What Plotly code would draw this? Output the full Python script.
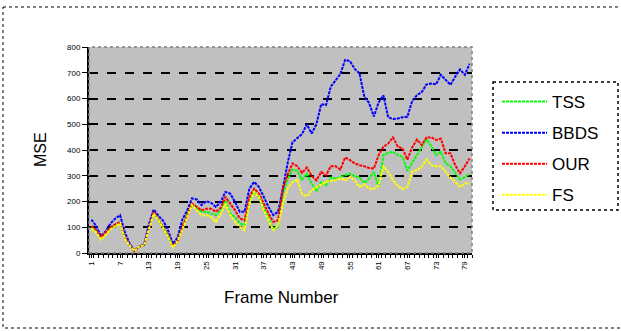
import plotly.graph_objects as go

frames = list(range(1, 81))

tss = [100, 88, 60, 78, 98, 110, 118, 58, 30, 8, 25, 30, 100, 158, 130, 100, 70, 28, 45, 95,
       150, 190, 175, 160, 160, 155, 147, 165, 205, 153, 140, 115, 108, 205, 237, 218, 179, 134, 95, 102,
       230, 285, 324, 319, 285, 308, 270, 240, 276, 263, 293, 289, 295, 302, 308, 298, 293, 272, 289, 315,
       257, 380, 389, 393, 380, 374, 319, 350, 380, 406, 441, 415, 380, 393, 348, 337, 309, 285, 295, 306]

bbds = [130, 105, 65, 85, 115, 134, 147, 80, 36, 8, 25, 32, 110, 169, 145, 125, 89, 35, 60, 130,
        165, 212, 208, 186, 201, 195, 179, 198, 237, 231, 198, 160, 160, 250, 276, 256, 218, 179, 147, 160,
        250, 350, 430, 445, 462, 500, 464, 500, 578, 574, 646, 670, 695, 750, 745, 715, 698, 607, 583, 530,
        585, 612, 527, 520, 522, 527, 529, 590, 613, 625, 655, 658, 655, 692, 672, 653, 685, 713, 692, 735]

our = [105, 90, 62, 80, 100, 112, 120, 60, 30, 8, 25, 30, 100, 160, 130, 100, 70, 28, 45, 100,
       150, 192, 179, 166, 172, 172, 160, 175, 218, 192, 166, 134, 127, 218, 250, 231, 192, 153, 121, 127,
       250, 305, 348, 337, 311, 332, 300, 282, 315, 302, 337, 337, 324, 371, 361, 348, 341, 337, 330, 328,
       380, 413, 425, 449, 413, 406, 363, 410, 441, 419, 449, 449, 439, 444, 387, 387, 341, 309, 337, 367]

fs = [95, 80, 52, 70, 92, 105, 115, 55, 28, 8, 25, 30, 95, 152, 128, 95, 65, 22, 45, 90,
      140, 186, 166, 147, 147, 140, 121, 150, 192, 147, 121, 102, 89, 192, 237, 218, 166, 127, 89, 108,
      190, 250, 275, 285, 228, 220, 244, 255, 267, 276, 280, 282, 291, 282, 295, 282, 257, 267, 250, 250,
      262, 337, 315, 282, 260, 248, 257, 315, 322, 335, 363, 341, 337, 337, 315, 293, 276, 257, 270, 270]

series = [("TSS", tss, "#00FF00"), ("BBDS", bbds, "#0000FF"), ("OUR", our, "#FF0000"), ("FS", fs, "#FFFF00")]

x_ticks = list(range(1, 80, 6))
y_ticks = list(range(0, 801, 100))

fig = go.Figure()
for name, vals, col in series:
    fig.add_trace(go.Scatter(x=frames, y=vals, name=name, mode="lines", legendgroup=name,
                             line=dict(color=col, width=2, dash="3px,1px")))

W, H = 621, 331
L, R, T, B = 89, 149, 47, 78
pw, ph = W - L - R, H - T - B

def px2x(p):
    return (p - L) / pw

def py2y(p):
    return 1 - (p - T) / ph

fig.update_layout(
    width=W, height=H,
    margin=dict(l=L, r=R, t=T, b=B),
    paper_bgcolor="white",
    plot_bgcolor="#C0C0C0",
    font=dict(family="Arial, Liberation Sans, sans-serif", color="black"),
    showlegend=True,
    legend=dict(x=px2x(497), y=py2y(84), xanchor="left", yanchor="top",
                font=dict(size=17), tracegroupgap=6, bgcolor="rgba(0,0,0,0)",
                itemwidth=45),
    xaxis=dict(range=[0.5, 80.5], tickmode="array", tickvals=x_ticks,
               ticktext=[str(v) for v in x_ticks], tickangle=-90,
               tickfont=dict(size=8), ticks="outside", ticklen=3, tickcolor="black",
               showgrid=False, zeroline=False, showline=True, linecolor="black", linewidth=2,
               minor=dict(dtick=1, tick0=0.5, ticks="outside", ticklen=3, tickcolor="black")),
    yaxis=dict(range=[0, 800], tickmode="array", tickvals=y_ticks, tickfont=dict(size=8),
               ticks="outside", ticklen=5, tickcolor="black",
               showgrid=True, gridcolor="black", gridwidth=1.5, griddash="dash",
               zeroline=False, showline=True, linecolor="black", linewidth=2),
    annotations=[
        dict(text="MSE", x=px2x(40), y=py2y(150), xref="paper", yref="paper",
             xanchor="center", yanchor="middle",
             showarrow=False, textangle=-90, font=dict(size=16)),
        dict(text="Frame Number", x=px2x(281), y=py2y(297), xref="paper", yref="paper",
             xanchor="center", yanchor="middle",
             showarrow=False, font=dict(size=17)),
    ],
    shapes=[
        dict(type="rect", xref="paper", yref="paper", x0=0, x1=1, y0=0, y1=1,
             line=dict(color="#808080", width=1.5, dash="dot"), layer="above"),
        dict(type="rect", xref="paper", yref="paper", x0=px2x(493), x1=px2x(618),
             y0=py2y(82), y1=py2y(210), line=dict(color="black", width=1.5, dash="dot")),
        dict(type="rect", xref="paper", yref="paper", x0=px2x(3), x1=px2x(625),
             y0=py2y(7), y1=py2y(328), line=dict(color="black", width=1, dash="dot")),
    ],
)

fig.write_html("out.html", config={"displayModeBar": False},
               post_script="document.body.style.margin='0';")
